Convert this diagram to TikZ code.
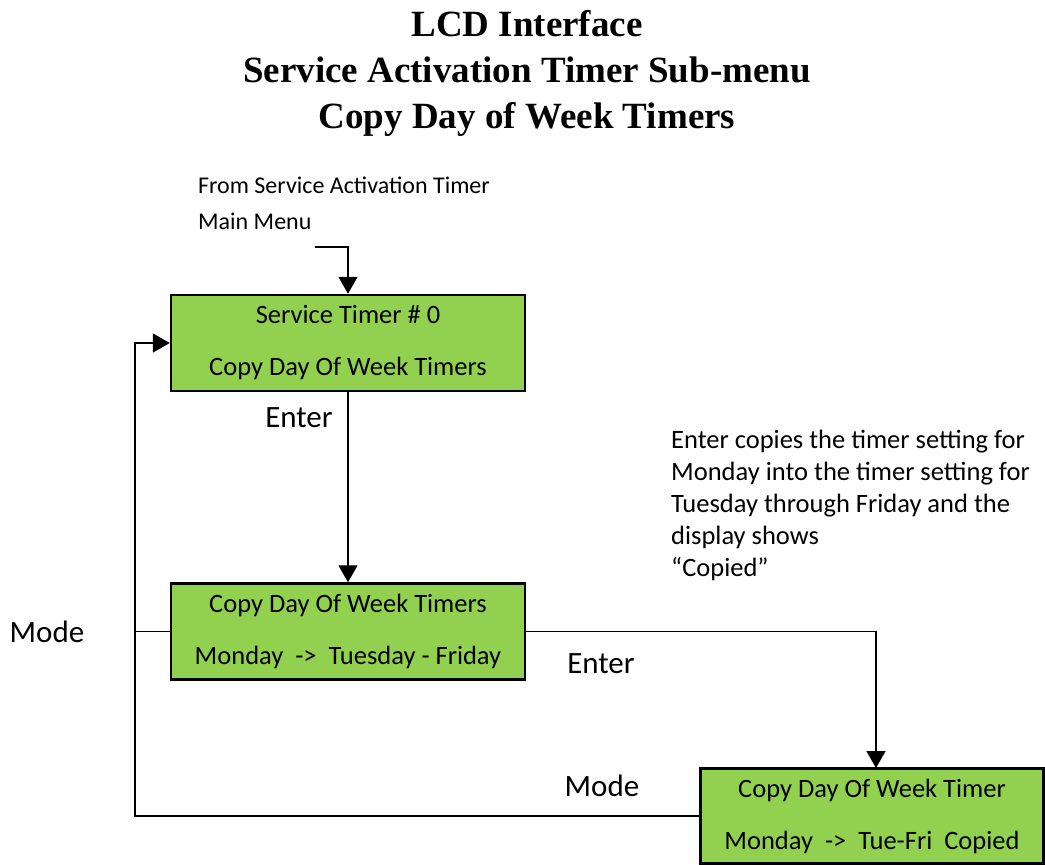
\documentclass[tikz,border=0pt]{standalone}
\usepackage{fontspec}
\setmainfont{Carlito}
\newfontfamily\titlefont{Liberation Serif}
\usetikzlibrary{arrows.meta}
\definecolor{boxgreen}{HTML}{92D050}
\tikzset{
  lcdbox/.style={draw=black, line width=2.5pt, fill=boxgreen, minimum width=354pt, minimum height=96pt,
    align=center, inner sep=0pt, font=\fontsize{26.5}{52}\selectfont},
  conn/.style={draw=black, line width=1.4pt, -{Triangle[length=17pt,width=19pt]}},
  plain/.style={draw=black, line width=1.4pt},
  lbl/.style={font=\fontsize{31}{37}\selectfont, inner sep=0pt},
}
\begin{document}
\begin{tikzpicture}[x=1pt,y=-1pt]
\useasboundingbox (0,0) rectangle (1045,865);
\clip (0,0) rectangle (1045,865);
\node[font=\titlefont\bfseries\fontsize{37}{46}\selectfont, align=center] (title) at (527,73)
  {LCD Interface\\Service Activation Timer Sub-menu\\Copy Day of Week Timers};
\node[font=\fontsize{24}{36}\selectfont, align=left, anchor=west, inner sep=0pt] (from) at (198,203)
  {From Service Activation Timer\\Main Menu};
\node[lcdbox] (b1) at (348,343) {Service Timer \# 0\\Copy Day Of Week Timers};
\node[lcdbox] (b2) at (348,631.5) {Copy Day Of Week Timers\\Monday \ ->\ \ Tuesday - Friday};
\node[lcdbox, minimum width=343pt, minimum height=95pt] (b3) at (872,816) {Copy Day Of Week Timer\\Monday \ ->\ \ Tue-Fri \ Copied};
\node[font=\fontsize{26.5}{32}\selectfont, align=left, anchor=west, inner sep=0pt] (note) at (671,505)
  {Enter copies the timer setting for\\Monday into the timer setting for\\Tuesday through Friday and the\\display shows\\``Copied''};
\node[lbl] (enter1) at (299,418) {Enter};
\node[lbl] (mode1) at (47,632) {Mode};
\node[lbl] (enter2) at (601,664) {Enter};
\node[lbl] (mode2) at (602,786) {Mode};
\coordinate (fromend) at (315,247);
\coordinate (lx) at (135,343);
\coordinate (b3top) at (876,768);
\draw[conn] (fromend) -| (b1.north);
\draw[conn] (b1.south) -- (b2.north);
\draw[conn] (b2.east) -| (b3top);
\draw[conn] (b3.west) -| (lx) -- (b1.west);
\draw[plain] (b2.west) -- (b2.west -| lx);
\end{tikzpicture}
\end{document}
